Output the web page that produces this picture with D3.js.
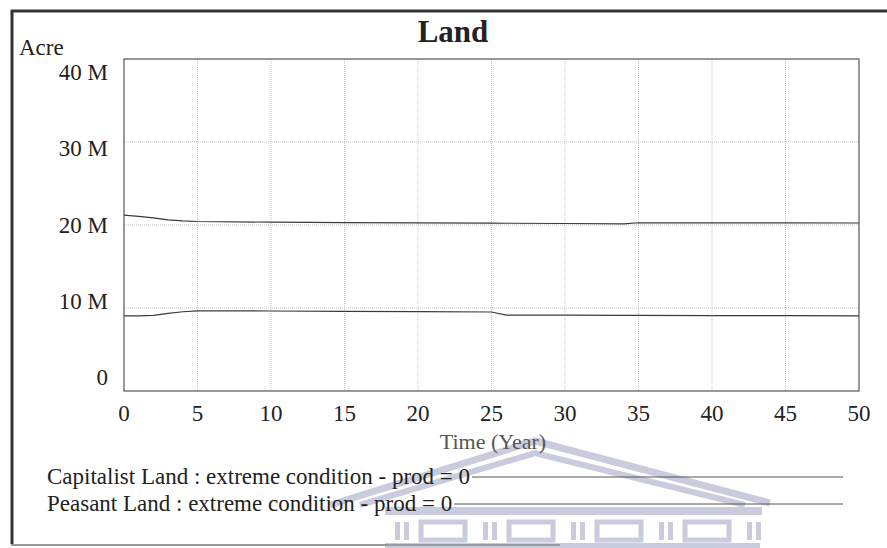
<!DOCTYPE html>
<html>
<head>
<meta charset="utf-8">
<script src="https://cdn.jsdelivr.net/npm/d3@7"></script>
<style>
  body { margin: 0; background: #fff; }
  text { font-family: "Liberation Serif", "Times New Roman", serif; fill: #222; }
</style>
</head>
<body>
<div id="chart"></div>
<script>
// Data (values in acres)
var years = [0, 1, 2, 3, 4, 5, 10, 15, 20, 25, 26, 30, 34, 35, 40, 45, 50]
var capitalist = [21.2e6, 21.05e6, 20.85e6, 20.62e6, 20.5e6, 20.42e6, 20.34e6, 20.29e6, 20.25e6,
  20.22e6, 20.21e6, 20.18e6, 20.14e6, 20.27e6, 20.26e6, 20.25e6, 20.24e6]
var peasant = [9.04e6, 9.05e6, 9.12e6, 9.35e6, 9.55e6, 9.66e6, 9.64e6, 9.6e6, 9.56e6,
  9.52e6, 9.15e6, 9.13e6, 9.12e6, 9.11e6, 9.09e6, 9.07e6, 9.05e6]
var xTicks = [0, 5, 10, 15, 20, 25, 30, 35, 40, 45, 50]
var yTicks = [0, 10e6, 20e6, 30e6, 40e6]
var legendNames = ["Capitalist Land : extreme condition - prod = 0",
  "Peasant Land : extreme condition - prod = 0"]

const W = 887, H = 548
const plot = {left: 124, right: 859, top: 59, bottom: 391}

var svg = d3.select("#chart")
  .append("svg")
  .attr("width", W)
  .attr("height", H)

svg.append("rect").attr("width", W).attr("height", H).attr("fill", "#fff")

var x = d3.scaleLinear().domain([0, 50]).range([plot.left, plot.right])
var y = d3.scaleLinear().domain([0, 40e6]).range([plot.bottom, plot.top])
// Vensim spreads the value labels a bit differently from the grid
var yLabel = d3.scaleLinear().domain([0, 40e6]).range([385, 80])

// faint watermark (scanned page logo)
var wm = svg.append("g").attr("fill", "none").attr("stroke", "#c8ccdc")
wm.append("path")
  .attr("d", "M330,505 L535,441 L770,503")
  .attr("stroke-width", 7)
wm.append("path")
  .attr("d", "M360,505 L535,453 L745,505")
  .attr("stroke-width", 6)
wm.append("rect").attr("x", 385).attr("y", 507).attr("width", 377).attr("height", 8)
  .attr("fill", "#c8ccdc").attr("stroke", "none")
var cols = wm.append("g").attr("fill", "#c8ccdc").attr("stroke", "none")
d3.range(5).forEach(function(i) {
  var cx = 395 + i * 88
  cols.append("rect").attr("x", cx).attr("y", 522).attr("width", 5).attr("height", 18)
  cols.append("rect").attr("x", cx + 9).attr("y", 522).attr("width", 5).attr("height", 18)
  if (i < 4) {
    cols.append("rect").attr("x", cx + 26).attr("y", 522).attr("width", 44).attr("height", 18)
      .attr("fill", "none").attr("stroke", "#c8ccdc").attr("stroke-width", 5)
  }
})
wm.append("rect").attr("x", 385).attr("y", 543).attr("width", 375).attr("height", 6)
  .attr("fill", "#c8ccdc").attr("stroke", "none")

// page frame
svg.append("line").attr("x1", 12).attr("x2", 12).attr("y1", 10).attr("y2", 544)
  .attr("stroke", "#333").attr("stroke-width", 3)
svg.append("line").attr("x1", 11).attr("x2", W).attr("y1", 11).attr("y2", 11)
  .attr("stroke", "#333").attr("stroke-width", 3)
svg.append("line").attr("x1", 11).attr("x2", 560).attr("y1", 545).attr("y2", 545)
  .attr("stroke", "#999").attr("stroke-width", 2)

// grid
svg.append("g")
  .selectAll("line")
  .data(xTicks.slice(1, -1))
  .enter()
  .append("line")
  .attr("x1", d => x(d)).attr("x2", d => x(d))
  .attr("y1", plot.top).attr("y2", plot.bottom)
  .attr("stroke", "#c4c4c4").attr("stroke-dasharray", "1,1")

svg.append("g")
  .selectAll("line")
  .data(yTicks.slice(1, -1))
  .enter()
  .append("line")
  .attr("x1", plot.left).attr("x2", plot.right)
  .attr("y1", d => y(d)).attr("y2", d => y(d))
  .attr("stroke", "#c4c4c4").attr("stroke-dasharray", "1,1")

// plot box
svg.append("rect")
  .attr("x", plot.left).attr("y", plot.top)
  .attr("width", plot.right - plot.left).attr("height", plot.bottom - plot.top)
  .attr("fill", "none").attr("stroke", "#555").attr("stroke-width", 1.2)

// x axis labels
svg.append("g")
  .selectAll("text")
  .data(xTicks)
  .enter()
  .append("text")
  .attr("x", d => x(d))
  .attr("y", 421)
  .attr("text-anchor", "middle")
  .style("font-size", "23px")
  .text(d => d)

// y axis labels
svg.append("g")
  .selectAll("text")
  .data(yTicks)
  .enter()
  .append("text")
  .attr("x", 108)
  .attr("y", d => yLabel(d))
  .attr("text-anchor", "end")
  .style("font-size", "23px")
  .text(d => d === 0 ? "0" : (d / 1e6) + " M")

// captions
svg.append("text")
  .attr("x", 453).attr("y", 42)
  .attr("text-anchor", "middle")
  .style("font-size", "31px").style("font-weight", "bold")
  .text("Land")

svg.append("text")
  .attr("x", 19).attr("y", 55)
  .style("font-size", "23px")
  .text("Acre")

svg.append("text")
  .attr("x", 493).attr("y", 449)
  .attr("text-anchor", "middle")
  .style("font-size", "22px").style("fill", "#555")
  .text("Time (Year)")

// lines
var series = [capitalist, peasant]
var line = d3.line()
  .x((d, i) => x(years[i]))
  .y(d => y(d))

series.forEach(function(vals) {
  svg.append("path")
    .datum(vals)
    .attr("fill", "none")
    .attr("stroke", "#3a3a3a")
    .attr("stroke-width", 1.2)
    .attr("d", line)
})

// legend
var legendY = [484, 511]
legendNames.forEach(function(name, i) {
  var t = svg.append("text")
    .attr("x", 47).attr("y", legendY[i])
    .style("font-size", "23px")
    .text(name)
  var end = 47 + t.node().getComputedTextLength() + 2
  svg.append("line")
    .attr("x1", end).attr("x2", 843)
    .attr("y1", legendY[i] - 7).attr("y2", legendY[i] - 7)
    .attr("stroke", "#555").attr("stroke-width", 1)
})
</script>
</body>
</html>
